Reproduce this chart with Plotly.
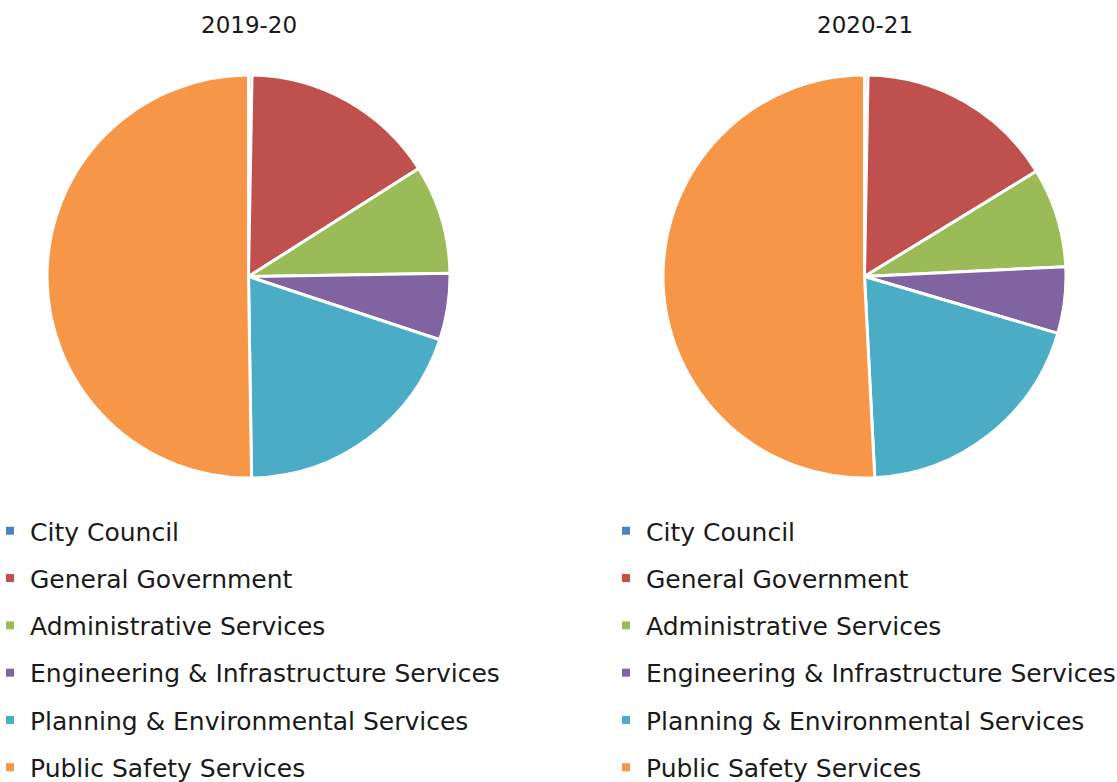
import plotly.graph_objects as go

categories = ["City Council", "General Government", "Administrative Services",
              "Engineering & Infrastructure Services", "Planning & Environmental Services",
              "Public Safety Services"]
values_2019 = [0.28, 15.72, 8.75, 5.33, 19.68, 50.24]
values_2020 = [0.28, 15.97, 7.97, 5.33, 19.64, 50.81]
titles = ["2019-20", "2020-21"]
colors = ["#4F81BD", "#C0504D", "#9BBB59", "#8064A2", "#4BACC6", "#F79646"]

W, H = 1117, 782
FONT = "DejaVu Sans"
TXT = "#1a1a1a"

def dom(cx, cy, r):
    return dict(x=[(cx - r) / W, (cx + r) / W], y=[1 - (cy + r) / H, 1 - (cy - r) / H])

fig = go.Figure()
for vals, (cx, cy), leg in [(values_2019, (248.5, 276.5), "legend"),
                            (values_2020, (864.5, 276.5), "legend2")]:
    fig.add_trace(go.Pie(labels=categories, values=vals, sort=False, direction="clockwise",
                         rotation=0, textinfo="none", showlegend=False,
                         marker=dict(colors=colors, line=dict(color="white", width=3)),
                         domain=dom(cx, cy, 201.5), hoverinfo="label+percent"))
    for i, cat in enumerate(categories):
        fig.add_trace(go.Scatter(x=[None], y=[None], mode="markers", name=cat,
                                 legend=leg, legendgroup=f"{leg}_{i}", showlegend=True,
                                 marker=dict(symbol="square", size=8, color=colors[i])))

for t, cx in zip(titles, [248.5, 864.5]):
    fig.add_annotation(text=t, x=cx / W, y=1 - 25 / H, xref="paper", yref="paper",
                       showarrow=False, font=dict(family=FONT, size=23, color=TXT),
                       xanchor="center", yanchor="middle")

legend_common = dict(yanchor="top", y=1 - 508 / H, xanchor="left", bgcolor="rgba(0,0,0,0)",
                     font=dict(family=FONT, size=25, color=TXT), tracegroupgap=11.8,
                     itemwidth=30, traceorder="grouped", indentation=-15)
fig.update_layout(
    width=W, height=H, margin=dict(l=0, r=0, t=0, b=0, autoexpand=False),
    paper_bgcolor="white", plot_bgcolor="white",
    xaxis=dict(visible=False), yaxis=dict(visible=False),
    legend=dict(x=5 / W, **legend_common),
    legend2=dict(x=621 / W, **legend_common),
)
fig.write_html("out.html", config={"displayModeBar": False},
               post_script="document.body.style.margin='0';document.body.style.overflow='hidden';")
